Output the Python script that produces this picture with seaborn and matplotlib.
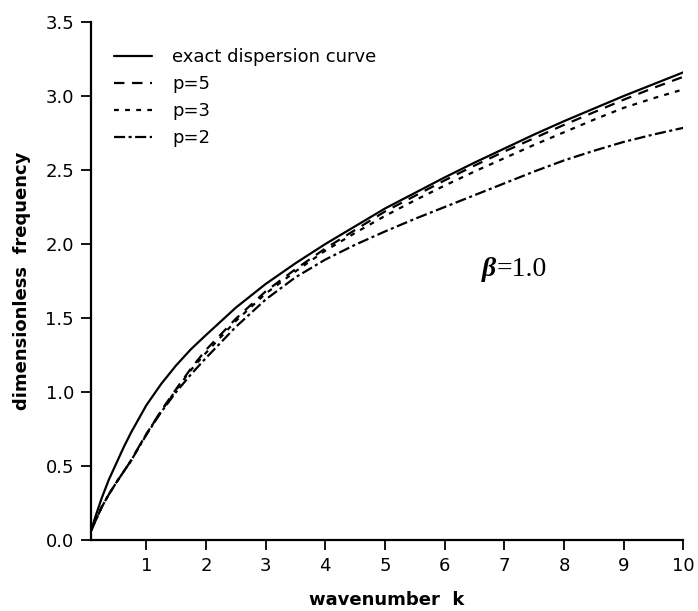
import matplotlib
matplotlib.use("Agg")
import matplotlib.pyplot as plt
import pandas as pd
import seaborn as sns

# wavenumber samples
k = [0.07, 0.15, 0.25, 0.375, 0.5, 0.625, 0.75, 0.875, 1.0, 1.25, 1.5, 1.75,
     2.0, 2.5, 3.0, 3.5, 4.0, 4.5, 5.0, 5.5, 6.0, 6.5, 7.0, 7.5, 8.0, 8.5,
     9.0, 9.5, 10.0]

# dimensionless frequency for each curve
exact = [0.06, 0.16, 0.28, 0.41, 0.52, 0.63, 0.73, 0.82, 0.91, 1.055, 1.18, 1.29,
         1.385, 1.57, 1.73, 1.87, 2.00, 2.12, 2.24, 2.345, 2.45, 2.55, 2.645,
         2.74, 2.83, 2.915, 3.00, 3.08, 3.16]
p5 = [0.06, 0.13, 0.22, 0.31, 0.39, 0.465, 0.54, 0.63, 0.715, 0.875, 1.02, 1.16,
      1.285, 1.495, 1.68, 1.83, 1.97, 2.095, 2.22, 2.325, 2.43, 2.53, 2.625,
      2.715, 2.805, 2.89, 2.975, 3.055, 3.13]
p3 = [0.06, 0.13, 0.22, 0.31, 0.39, 0.465, 0.54, 0.63, 0.715, 0.87, 1.015, 1.15,
      1.265, 1.48, 1.665, 1.815, 1.955, 2.075, 2.19, 2.295, 2.395, 2.49, 2.58,
      2.67, 2.755, 2.84, 2.92, 2.985, 3.045]
p2 = [0.06, 0.13, 0.22, 0.31, 0.39, 0.465, 0.54, 0.625, 0.71, 0.865, 1.0, 1.12,
      1.23, 1.44, 1.625, 1.775, 1.895, 1.995, 2.085, 2.17, 2.25, 2.33, 2.41,
      2.49, 2.565, 2.63, 2.69, 2.74, 2.785]

labels = ["exact dispersion curve", "p=5", "p=3", "p=2"]
x_ticks = [1, 2, 3, 4, 5, 6, 7, 8, 9, 10]
y_ticks = [0.0, 0.5, 1.0, 1.5, 2.0, 2.5, 3.0, 3.5]

n = len(k)
df = pd.DataFrame({
    "k": k * 4,
    "freq": exact + p5 + p3 + p2,
    "curve": [labels[0]] * n + [labels[1]] * n + [labels[2]] * n + [labels[3]] * n,
})

sns.set_style("ticks")
plt.rcParams["font.family"] = ["DejaVu Sans"]
plt.rcParams["lines.scale_dashes"] = False
plt.rcParams["text.color"] = "black"
plt.rcParams["axes.labelcolor"] = "black"

fig = plt.figure(figsize=(6.98, 6.11), dpi=100)
ax = fig.add_axes([0.130, 0.116, 0.849, 0.848])

dash_styles = {
    labels[0]: "",
    labels[1]: (7.5, 5.5),
    labels[2]: (3.5, 4.5),
    labels[3]: (8.0, 2.5, 2.2, 2.5),
}
sns.lineplot(data=df, x="k", y="freq", hue="curve", style="curve",
             palette=["black"] * 4, dashes=dash_styles, linewidth=1.6,
             ax=ax, legend=True)

ax.set_xlim(0.07, 10)
ax.set_ylim(0, 3.5)
ax.set_xticks(x_ticks)
ax.set_xticklabels([str(t) for t in x_ticks])
ax.set_yticks(y_ticks)
ax.set_yticklabels([f"{t:.1f}" for t in y_ticks])
ax.tick_params(axis="both", direction="out", length=7, width=1.3,
               labelsize=13, colors="black", pad=5)
for s in ["top", "right"]:
    ax.spines[s].set_visible(False)
for s in ["left", "bottom"]:
    ax.spines[s].set_linewidth(1.6)
    ax.spines[s].set_color("black")

ax.set_xlabel("wavenumber  k", fontsize=13, fontweight="bold", labelpad=12)
ax.set_ylabel("dimensionless  frequency", fontsize=13, fontweight="bold", labelpad=10)

leg = ax.legend(loc="upper left", bbox_to_anchor=(0.04, 0.95), frameon=False,
                fontsize=13, handlelength=2.1, handletextpad=1.1,
                labelspacing=0.5, borderaxespad=0, borderpad=0)

ax.text(6.855, 1.83, "β", ha="right", va="center", fontsize=20,
        fontstyle="italic", fontweight="bold", family=["Liberation Serif"])
ax.text(6.87, 1.83, "=1.0", ha="left", va="center", fontsize=20,
        family=["Liberation Serif"])

fig.savefig("out.png", dpi=100)
